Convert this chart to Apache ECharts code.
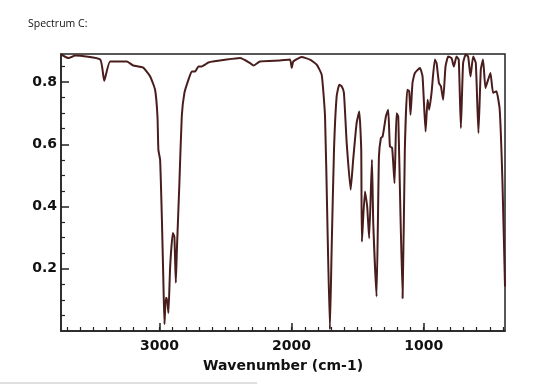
<!DOCTYPE html>
<html lang="en">
<head>
    <meta charset="UTF-8">
    <title>Spectrum C</title>
    <script src="https://cdn.jsdelivr.net/npm/echarts@6/dist/echarts.min.js"></script>
    <style>
        html, body { margin: 0; padding: 0; background: #fff; }
        #main { width: 560px; height: 386px; }
    </style>
</head>
<body>
    <div id="main"></div>
    <script>
        // IR spectrum: wavenumber (cm-1) and transmittance
        var wavenumber = [
            3745, 3688, 3637, 3448, 3418, 3373, 3246, 3199, 3123, 3070,
            3033, 3015, 3008, 2995, 2982, 2970, 2962, 2952, 2944, 2932,
            2919, 2899, 2887, 2876, 2868, 2849, 2831, 2811, 2781, 2755,
            2730, 2705, 2680, 2655, 2630, 2491, 2390, 2314, 2289, 2239,
            2088, 2012, 1999, 1987, 1924, 1861, 1810, 1772, 1747, 1730,
            1710, 1697, 1679, 1659, 1639, 1621, 1604, 1583, 1553, 1534,
            1508, 1488, 1473, 1468, 1445, 1428, 1413, 1392, 1382, 1357,
            1339, 1324, 1311, 1286, 1269, 1256, 1239, 1221, 1206, 1193,
            1160, 1143, 1125, 1110, 1100, 1085, 1067, 1029, 1009, 986,
            971, 959, 941, 916, 903, 885, 870, 853, 835, 815,
            790, 772, 752, 735, 719, 702, 682, 664, 646, 626,
            606, 586, 568, 551, 533, 513, 495, 475, 450, 425,
            404, 385
        ];
        var transmittance = [
            0.889, 0.877, 0.885, 0.872, 0.804, 0.866, 0.866, 0.853, 0.846, 0.818,
            0.775, 0.690, 0.582, 0.550, 0.368, 0.155, 0.022, 0.106, 0.106, 0.058,
            0.207, 0.315, 0.303, 0.155, 0.261, 0.476, 0.690, 0.765, 0.807, 0.834,
            0.834, 0.850, 0.850, 0.856, 0.863, 0.872, 0.877, 0.861, 0.853, 0.866,
            0.869, 0.872, 0.845, 0.866, 0.880, 0.872, 0.856, 0.823, 0.690, 0.368,
            0.005, 0.261, 0.582, 0.754, 0.791, 0.786, 0.765, 0.604, 0.454, 0.550,
            0.668, 0.705, 0.582, 0.287, 0.448, 0.400, 0.298, 0.550, 0.347, 0.111,
            0.561, 0.620, 0.625, 0.690, 0.711, 0.593, 0.588, 0.475, 0.700, 0.690,
            0.105, 0.582, 0.775, 0.770, 0.695, 0.797, 0.829, 0.845, 0.818, 0.641,
            0.743, 0.711, 0.765, 0.872, 0.861, 0.797, 0.786, 0.743, 0.850, 0.882,
            0.877, 0.850, 0.882, 0.872, 0.652, 0.861, 0.888, 0.882, 0.818, 0.882,
            0.861, 0.636, 0.840, 0.872, 0.781, 0.807, 0.829, 0.765, 0.770, 0.711,
            0.475, 0.143
        ];
        var xMajor = [1000, 2000, 3000];
        var xMinor = [];
        for (var w = 400; w <= 3700; w += 100) xMinor.push(w);
        var yMajor = [0.2, 0.4, 0.6, 0.8];
        var yMinor = [0.05, 0.1, 0.15, 0.25, 0.3, 0.35, 0.45, 0.5, 0.55, 0.65, 0.7, 0.75, 0.85];

        var X_MIN = 385, X_MAX = 3745;
        var labelFont = { color: '#111', fontSize: 14, fontWeight: 'bold', fontFamily: 'DejaVu Sans' };

        var chart = echarts.init(document.getElementById('main'));
        var points = wavenumber.map(function (wn, i) { return [wn, transmittance[i]]; });

        chart.setOption({
            animation: false,
            title: {
                text: 'Spectrum C:',
                left: 23,
                top: 14,
                textStyle: { fontSize: 10.5, fontWeight: 'normal', color: '#111', fontFamily: 'Open Sans' }
            },
            grid: {
                left: 61, right: 55, top: 54, bottom: 55,
                show: true, borderColor: '#222', borderWidth: 1.5, backgroundColor: '#fff'
            },
            xAxis: [
                {
                    type: 'value', inverse: true, min: X_MIN, max: X_MAX, position: 'bottom',
                    name: 'Wavenumber (cm-1)', nameLocation: 'middle', nameGap: 28,
                    nameTextStyle: labelFont,
                    axisLine: { show: true, lineStyle: { color: '#222', width: 1.5 } },
                    axisTick: { show: true, inside: true, length: 8, customValues: xMajor, lineStyle: { color: '#222', width: 1.5 } },
                    axisLabel: Object.assign({ customValues: xMajor, margin: 8, formatter: function (v) { return String(v); } }, labelFont),
                    splitLine: { show: false }
                },
                {
                    type: 'value', inverse: true, min: X_MIN, max: X_MAX, position: 'bottom',
                    axisLine: { show: false },
                    axisTick: { show: true, inside: true, length: 4, customValues: xMinor, lineStyle: { color: '#222', width: 1.2 } },
                    axisLabel: { show: false },
                    splitLine: { show: false }
                }
            ],
            yAxis: [
                {
                    type: 'value', min: 0, max: 0.89,
                    axisLine: { show: true, lineStyle: { color: '#222', width: 1.5 } },
                    axisTick: { show: true, inside: true, length: 8, customValues: yMajor, lineStyle: { color: '#222', width: 1.5 } },
                    axisLabel: Object.assign({ customValues: yMajor, margin: 4, formatter: function (v) { return v.toFixed(1); } }, labelFont),
                    splitLine: { show: false }
                },
                {
                    type: 'value', min: 0, max: 0.89, position: 'left',
                    axisLine: { show: false },
                    axisTick: { show: true, inside: true, length: 4, customValues: yMinor, lineStyle: { color: '#222', width: 1.2 } },
                    axisLabel: { show: false },
                    splitLine: { show: false }
                }
            ],
            series: [{
                type: 'line',
                data: points,
                showSymbol: false,
                clip: true,
                smooth: 0.15,
                lineStyle: { color: '#4a1d1d', width: 2 },
                z: 3
            }],
            graphic: [{
                type: 'line',
                shape: { x1: 0, y1: 383, x2: 257, y2: 383 },
                style: { stroke: '#d4d4d4', lineWidth: 1.5 }
            }]
        });
    </script>
</body>
</html>
